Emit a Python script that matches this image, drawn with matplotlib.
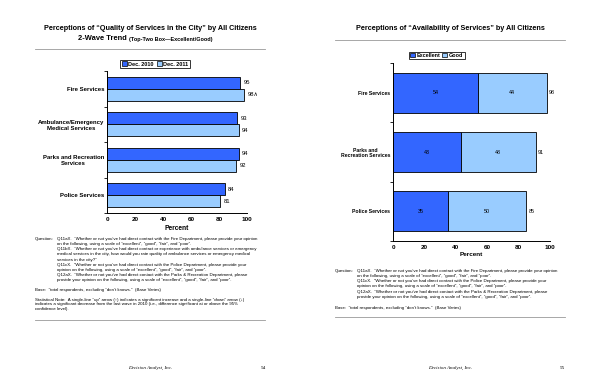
import numpy as np
import matplotlib
matplotlib.use("Agg")
import matplotlib.pyplot as plt
from matplotlib.patches import Patch

plt.rcParams['font.family'] = ['Liberation Sans', 'DejaVu Sans']

# ---- data: left page (2-wave trend, top-two box) ----
trend_cats = ['Fire Services', 'Ambulance/Emergency\nMedical Services',
              'Parks and Recreation\nServices', 'Police Services']
dec_2010 = [95, 93, 94, 84]
dec_2011 = [98, 94, 92, 81]
dec_2011_labels = ['98\u2227', '94', '92', '81']

# ---- data: right page (availability, excellent + good) ----
avail_cats = ['Fire Services', 'Parks and\nRecreation Services', 'Police Services']
excellent = [54, 43, 35]
good = [44, 48, 50]
avail_total = [98, 91, 85]

DARK = '#3366FF'
LIGHT = '#99CCFF'
W, H = 600, 388

fig = plt.figure(figsize=(6, 3.88), dpi=100)
fig.patch.set_facecolor('white')


def fx(x):
    return x / W


def fy(y):
    return 1 - y / H


def rect(x0, y0, x1, y1):
    # pixel box -> figure fraction [left, bottom, width, height]
    return [fx(x0), fy(y1), (x1 - x0) / W, (y1 - y0) / H]


def hrule(x0, x1, y):
    fig.add_artist(plt.Line2D([fx(x0), fx(x1)], [fy(y), fy(y)], color='#999999', lw=0.6))


def small(x, y, s, **kw):
    fig.text(fx(x), fy(y), s, fontsize=3.2, va='center', ha='left', **kw)


def style_axes(ax, n):
    ax.set_xlim(0, 100)
    ax.set_ylim(n - 0.5, -0.5)
    ax.set_xticks(range(0, 101, 20))
    for s in ['top', 'right']:
        ax.spines[s].set_visible(False)
    for s in ['left', 'bottom']:
        ax.spines[s].set_linewidth(0.7)
    ax.set_yticks(np.arange(n))
    ax.set_yticks(np.arange(n + 1) - 0.5, minor=True)
    ax.tick_params(axis='y', which='major', length=0, pad=2)
    ax.tick_params(axis='y', which='minor', length=2, width=0.6)
    ax.tick_params(axis='x', length=0, pad=3, labelsize=4.6)
    for t in ax.get_xticklabels():
        t.set_fontweight('bold')


# ================= LEFT PAGE =================
fig.text(fx(150), fy(29), 'Perceptions of \u201cQuality of Services in the City\u201d by All Citizens',
         ha='center', va='center', fontsize=5.2, fontweight='bold')
fig.text(fx(129), fy(39), '2-Wave Trend ', ha='right', va='center', fontsize=5.4, fontweight='bold')
fig.text(fx(129), fy(39.5), '(Top-Two Box\u2014Excellent/Good)', ha='left', va='center',
         fontsize=4.0, fontweight='bold')
hrule(35, 265, 49)

axL = fig.add_axes(rect(107, 71, 247, 213))
y = np.arange(len(trend_cats))
bh = 0.338
axL.barh(y - bh / 2, dec_2010, height=bh, color=DARK, edgecolor='black', lw=0.6)
axL.barh(y + bh / 2, dec_2011, height=bh, color=LIGHT, edgecolor='black', lw=0.6)
for i in range(len(trend_cats)):
    axL.text(dec_2010[i] + 2.5, y[i] - bh / 2, str(dec_2010[i]), va='center', fontsize=4.2)
    axL.text(dec_2011[i] + 2.5, y[i] + bh / 2, dec_2011_labels[i], va='center', fontsize=4.2)
style_axes(axL, len(trend_cats))
axL.set_yticklabels(trend_cats, fontsize=4.3, fontweight='bold', multialignment='center')
axL.set_xlabel('Percent', fontsize=4.8, fontweight='bold', labelpad=2)

leg_handles = [Patch(facecolor=DARK, edgecolor='black', lw=0.5, label='Dec. 2010'),
               Patch(facecolor=LIGHT, edgecolor='black', lw=0.5, label='Dec. 2011')]
legL = fig.legend(handles=leg_handles, loc='center', bbox_to_anchor=(fx(155), fy(64)), ncol=2,
                  fontsize=4, frameon=True, fancybox=False, edgecolor='black',
                  handlelength=0.9, handleheight=0.9, handletextpad=0.3, columnspacing=0.5,
                  borderpad=0.25, borderaxespad=0)
legL.get_frame().set_linewidth(0.7)
for t in legL.get_texts():
    t.set_fontweight('bold')

# footnotes, left
small(35, 239, 'Question:')
q_left = [
    'Q11aX.  \u201cWhether or not you\u2019ve had direct contact with the Fire Department, please provide your opinion',
    'on the following, using a scale of \u201cexcellent\u201d, \u201cgood\u201d, \u201cfair\u201d, and \u201cpoor\u201d.',
    'Q11bX.  \u201cWhether or not you\u2019ve had direct contact or experience with ambulance services or emergency',
    'medical services in the city, how would you rate quality of ambulance services or emergency medical',
    'services in the city?\u201d',
    'Q11cX.  \u201cWhether or not you\u2019ve had direct contact with the Police Department, please provide your',
    'opinion on the following, using a scale of \u201cexcellent\u201d, \u201cgood\u201d, \u201cfair\u201d, and \u201cpoor\u201d.',
    'Q12aX.  \u201cWhether or not you\u2019ve had direct contact with the Parks & Recreation Department, please',
    'provide your opinion on the following, using a scale of \u201cexcellent\u201d, \u201cgood\u201d, \u201cfair\u201d, and \u201cpoor\u201d.',
]
for k, line in enumerate(q_left):
    small(57, 239 + k * 5.15, line)
small(35, 290, 'Base:  \u201ctotal respondents, excluding \u201cdon\u2019t knows.\u201d  (Base Varies)')
small(35, 299.5, 'Statistical Note:  A single-line \u201cup\u201d arrow (\u2191) indicates a significant increase and a single-line \u201cdown\u201d arrow (\u2193)')
small(35, 304.2, 'indicates a significant decrease from the last wave in 2010 (i.e., difference significant at or above the 95%')
small(35, 308.9, 'confidence level).')
hrule(35, 265, 320)
fig.text(fx(150), fy(368), 'Decision Analyst, Inc.', ha='center', va='center', fontsize=3.6,
         style='italic', family='Liberation Serif')
fig.text(fx(263), fy(368), '54', ha='center', va='center', fontsize=3.8, family='Liberation Serif')

# ================= RIGHT PAGE =================
fig.text(fx(450), fy(29), 'Perceptions of \u201cAvailability of Services\u201d by All Citizens',
         ha='center', va='center', fontsize=5.2, fontweight='bold')
hrule(335, 565, 40)

axR = fig.add_axes(rect(393, 63, 550, 241))
yr = np.arange(len(avail_cats))
axR.barh(yr, excellent, height=0.67, color=DARK, edgecolor='black', lw=0.6)
axR.barh(yr, good, left=excellent, height=0.67, color=LIGHT, edgecolor='black', lw=0.6)
for i in range(len(avail_cats)):
    axR.text(excellent[i] / 2, yr[i], str(excellent[i]), ha='center', va='center', fontsize=3.9)
    axR.text(excellent[i] + good[i] / 2, yr[i], str(good[i]), ha='center', va='center', fontsize=3.9)
    axR.text(avail_total[i] + 1.2, yr[i], str(avail_total[i]), ha='left', va='center', fontsize=3.9)
style_axes(axR, len(avail_cats))
axR.set_yticklabels(avail_cats, fontsize=3.7, fontweight='bold', multialignment='center')
axR.set_xlabel('Percent', fontsize=4.6, fontweight='bold', labelpad=1)

leg_handles_r = [Patch(facecolor=DARK, edgecolor='black', lw=0.5, label='Excellent'),
                 Patch(facecolor=LIGHT, edgecolor='black', lw=0.5, label='Good')]
legR = fig.legend(handles=leg_handles_r, loc='center', bbox_to_anchor=(fx(436.5), fy(55.5)), ncol=2,
                  fontsize=3.9, frameon=True, fancybox=False, edgecolor='black',
                  handlelength=0.9, handleheight=0.9, handletextpad=0.3, columnspacing=0.4,
                  borderpad=0.25, borderaxespad=0)
legR.get_frame().set_linewidth(0.7)
for t in legR.get_texts():
    t.set_fontweight('bold')

small(335, 271, 'Question:')
q_right = [
    (271, 'Q11aX.  \u201cWhether or not you\u2019ve had direct contact with the Fire Department, please provide your opinion'),
    (276, 'on the following, using a scale of \u201cexcellent\u201d, \u201cgood\u201d, \u201cfair\u201d, and \u201cpoor\u201d.'),
    (280.7, 'Q11cX.  \u201cWhether or not you\u2019ve had direct contact with the Police Department, please provide your'),
    (285.7, 'opinion on the following, using a scale of \u201cexcellent\u201d, \u201cgood\u201d, \u201cfair\u201d, and \u201cpoor\u201d.'),
    (292.3, 'Q12aX.  \u201cWhether or not you\u2019ve had direct contact with the Parks & Recreation Department, please'),
    (297.3, 'provide your opinion on the following, using a scale of \u201cexcellent\u201d, \u201cgood\u201d, \u201cfair\u201d, and \u201cpoor\u201d.'),
]
for yy, line in q_right:
    small(357, yy, line)
small(335, 307.7, 'Base:  \u201ctotal respondents, excluding \u201cdon\u2019t knows.\u201d  (Base Varies)')
hrule(335, 565, 317)
fig.text(fx(450), fy(368), 'Decision Analyst, Inc.', ha='center', va='center', fontsize=3.6,
         style='italic', family='Liberation Serif')
fig.text(fx(562), fy(368), '55', ha='center', va='center', fontsize=3.8, family='Liberation Serif')

fig.savefig('out.png', dpi=100, facecolor='white')
